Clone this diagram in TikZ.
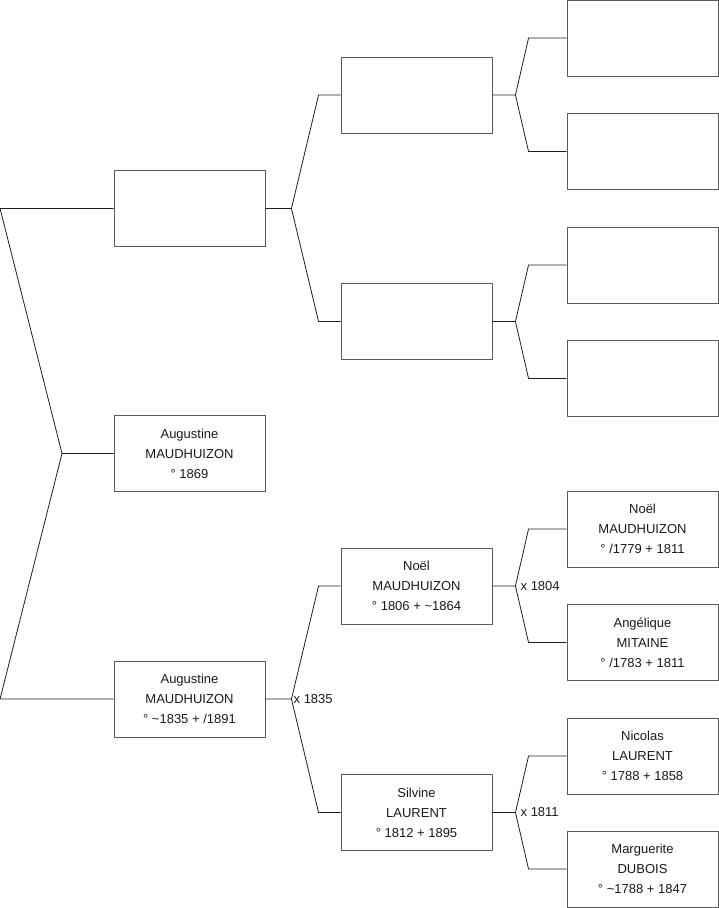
\documentclass[tikz,border=0pt]{standalone}
\usepackage{fontspec}
\setmainfont{Liberation Sans}
\usepackage{tikz}
\usetikzlibrary{positioning, calc}
\usepackage{xcolor}
\definecolor{pbox}{HTML}{5A5A5A}
\definecolor{plink}{HTML}{1E1E1E}
\definecolor{ptext}{HTML}{1A1A1A}

\begin{document}
\begin{tikzpicture}[x=1pt, y=-1pt,
    font=\fontsize{13}{20}\selectfont,
    person/.style={draw=pbox, line width=0.9pt, minimum width=151pt, minimum height=76pt,
      inner sep=0pt, align=center, text=ptext},
    link/.style={draw=plink, line width=0.8pt},
    wed/.style={anchor=west, inner sep=0pt, text=ptext}]
    \useasboundingbox (0,0) rectangle (719,908);
    % generation 1
    \node[person] (p1) at (189.5,208.5) {};
    \node[person] (root) at (189.5,453.5) {Augustine\\MAUDHUIZON\\° 1869};
    \node[person] (p2) at (189.5,699) {Augustine\\MAUDHUIZON\\° \textasciitilde1835 + /1891};
    % generation 2
    \node[person] (gp1) at (416.5,95) {};
    \node[person] (gp2) at (416.5,321.5) {};
    \node[person] (gp3) at (416.5,586) {Noël\\MAUDHUIZON\\° 1806 + \textasciitilde1864};
    \node[person] (gp4) at (416.5,812.5) {Silvine\\LAURENT\\° 1812 + 1895};
    % generation 3
    \node[person] (ggp1) at (642.5,38) {};
    \node[person] (ggp2) at (642.5,151.5) {};
    \node[person] (ggp3) at (642.5,265) {};
    \node[person] (ggp4) at (642.5,378.5) {};
    \node[person] (ggp5) at (642.5,529) {Noël\\MAUDHUIZON\\° /1779 + 1811};
    \node[person] (ggp6) at (642.5,642.5) {Angélique\\MITAINE\\° /1783 + 1811};
    \node[person] (ggp7) at (642.5,756) {Nicolas\\LAURENT\\° 1788 + 1858};
    \node[person] (ggp8) at (642.5,869) {Marguerite\\DUBOIS\\° \textasciitilde1788 + 1847};
    % root fork on the left
    \coordinate (fk-root) at (62,453.5);
    \draw[link] (p1.west) -- ++(-113.5,0) -- (fk-root) -- (root.west);
    \draw[link] (fk-root) -- ($(p2.west)+(-113.5,0)$) -- (p2.west);
    % parents forks
    \foreach \c/\a/\b in {p1/gp1/gp2, p2/gp3/gp4}
      \draw[link] (\c.east) -- ++(26,0) coordinate (fk-\c)
        -- ([xshift=-22pt]\a.west) -- (\a.west)
        (fk-\c) -- ([xshift=-22pt]\b.west) -- (\b.west);
    \foreach \c/\a/\b in {gp1/ggp1/ggp2, gp2/ggp3/ggp4, gp3/ggp5/ggp6, gp4/ggp7/ggp8}
      \draw[link] (\c.east) -- ++(23,0) coordinate (fk-\c)
        -- ([xshift=-38pt]\a.west) -- (\a.west)
        (fk-\c) -- ([xshift=-38pt]\b.west) -- (\b.west);
    % marriages
    \node[wed] (m1) at ([xshift=2pt]fk-p2) {x 1835};
    \node[wed] (m2) at ([xshift=5pt]fk-gp3) {x 1804};
    \node[wed] (m3) at ([xshift=5pt]fk-gp4) {x 1811};
\end{tikzpicture}
\end{document}
